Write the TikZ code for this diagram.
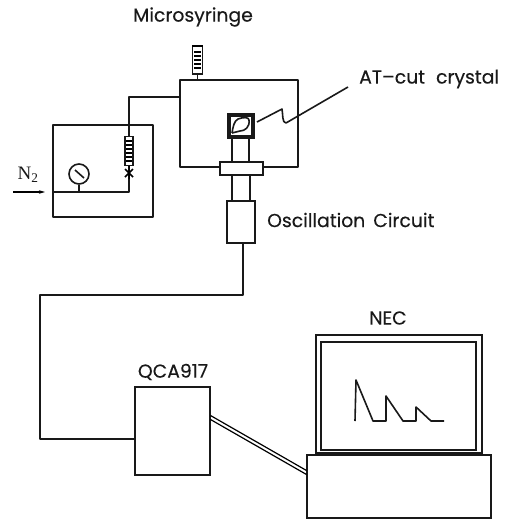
\documentclass[tikz,border=0pt]{standalone}
\usepackage{fontspec}
\usetikzlibrary{arrows.meta}
\setmainfont[FakeBold=0.3]{Poppins}
\newfontfamily\serifN{Liberation Serif}
\tikzset{
  line/.style={line width=1.6pt,line join=round,black!90},
  box/.style={draw=black!90,line width=1.6pt,fill=white,inner sep=0pt,minimum width=#1},
  lbl/.style={font=\fontsize{18.8}{20}\selectfont,inner sep=0pt,text=black!90},
}
\begin{document}
\begin{tikzpicture}[x=1pt,y=-1pt]
\useasboundingbox (0,0) rectangle (509,520);
% left box
\coordinate (inlet) at (53,192);
\coordinate (tee) at (129,192);
\coordinate (elbow) at (129,97);
\coordinate (chamberIn) at (180,97);
\draw[line] (53,125) rectangle (153,217);
\draw[line] (inlet) -- (tee) -- (elbow) -- (chamberIn);
% chamber
\draw[line] (220,167) -- (180,167) -- (180,80) -- (298,80) -- (298,167) -- (263,167);
% gauge
\node[draw=black!90,line width=1.6pt,circle,minimum size=20pt,inner sep=0pt,fill=white] (gauge) at (79,174) {};
\draw[line] (gauge.south) -- (79,192);
\draw[line] (75,170) -- (84,178);
% small syringe
\node[draw=black!90,line width=1.8pt,fill=white,minimum width=8pt,minimum height=29pt,inner sep=0pt] (filter) at (129,151) {};
\foreach \y in {141,145,149,153,157,161} \draw[line width=1.5pt] (126,\y) -- (132,\y);
% valve
\draw[line width=1.5pt] (125,169) -- (133,177) (133,169) -- (125,177) (129,166) -- (129,179);
% N2
\node[lbl,font=\serifN\fontsize{19}{20}\selectfont] (n2) at (28,175) {N\textsubscript{2}};
\coordinate (arrS) at (13,192);
\coordinate (arrE) at (45,192);
\draw[line width=1.2pt,-{Stealth[length=6pt,width=3.5pt]}] (arrS) -- (arrE);
% microsyringe
\node[draw=black!90,line width=1.8pt,fill=white,minimum width=10pt,minimum height=28pt,inner sep=0pt] (syr) at (197.5,60) {};
\foreach \y in {52,56,60,64,68} \draw[line width=1.4pt] (194,\y) -- (201,\y);
\draw[line width=2.5pt] (192,46) -- (203,46);
\draw[line] (syr.south) -- (197.5,80);
% crystal
\draw[line] (232,138) -- (232,162) (249,138) -- (249,162);
\draw[line] (232,175) -- (232,201) (250,175) -- (250,201);
\node[draw=black!90,line width=4pt,fill=white,minimum width=24pt,minimum height=22pt,inner sep=0pt] (crystal) at (240.5,125.5) {};
\draw[line] (232,133) .. controls (233,127) and (234,121) .. (238,119) .. controls (243,117) and (249,117) .. (249,120) .. controls (250,127) and (245,131) .. (240,131) -- (232,133);
\coordinate (wireS) at (257,122);
\coordinate (wireE) at (348,87);
\draw[line] (wireS) -- (282,109) .. controls (283,114) and (282,123) .. (286,123) -- (wireE);
% flange
\node[box=43pt,minimum height=13pt] (flange) at (241.5,168.5) {};
% oscillation
\node[box=28pt,minimum height=42pt] (osc) at (241,222) {};
% qca
\node[box=75pt,minimum height=88pt] (qca) at (172.5,431) {};
\coordinate (w0) at (243,243);
\coordinate (w1) at (243,295);
\coordinate (w2) at (40,295);
\coordinate (w3) at (40,439);
\draw[line] (w0) -- (w1) -- (w2) -- (w3) -- (qca.west |- w3);
% monitor
\node[draw=black!90,line width=1.6pt,minimum width=166pt,minimum height=118pt,inner sep=0pt] (monO) at (399,394) {};
\node[draw=black!90,line width=1.6pt,minimum width=155pt,minimum height=108pt,inner sep=0pt] (monI) at (398.5,396) {};
\node[box=184pt,minimum height=63pt] (base) at (399,486.5) {};
\draw[line] (355,421) -- (356,380) -- (373,421) -- (386,421) -- (386,396) -- (403,421) -- (416,421) -- (416,407) -- (431,421) -- (444,421);
% double link
\draw[line width=1.2pt] (210.5,415.5) -- (306.5,470.5);
\draw[line width=1.2pt] (210.5,419.5) -- (306.5,474.5);
% labels
\node[lbl] (t1) at (193,17) {Microsyringe};
\node[lbl,anchor=west] (t2) at (359,79) {AT--cut\hspace{6pt} crystal};
\node[lbl,anchor=west] (t3) at (267,220) {Oscillation\hspace{3pt} Circuit};
\node[lbl] (t4) at (388,318) {NEC};
\node[lbl] (t5) at (173,372) {QCA917};
\end{tikzpicture}
\end{document}
